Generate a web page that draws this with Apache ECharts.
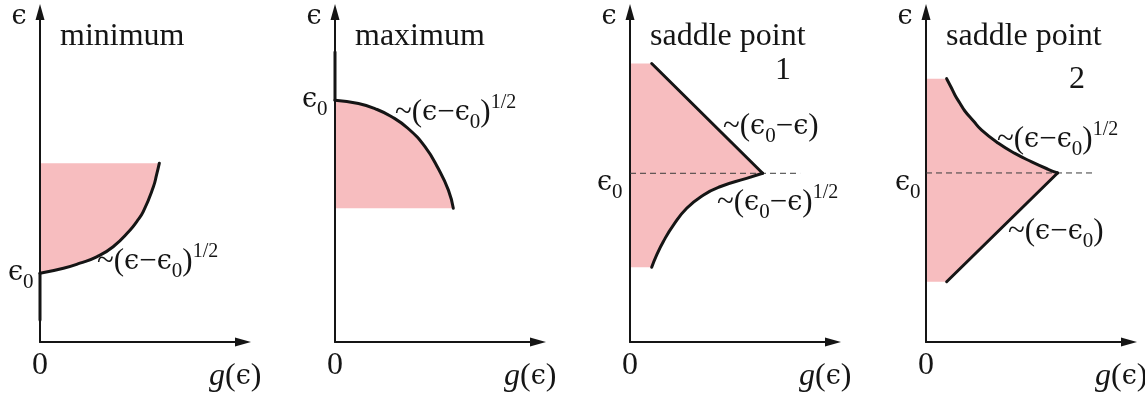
<!DOCTYPE html>
<html>
<head>
<meta charset="utf-8">
<script src="https://cdn.jsdelivr.net/npm/echarts@6/dist/echarts.min.js"></script>
<style>
  html, body { margin: 0; padding: 0; background: #ffffff; }
  #chart { width: 1145px; height: 395px; }
</style>
</head>
<body>
<div id="chart"></div>
<script>
// Panel headings and the origin tick label
const panelTitles = ['minimum', 'maximum', 'saddle point', 'saddle point'];
const panelNumbers = ['', '', '1', '2'];
const originTicks = ['0'];

// Critical energy ε0 of each panel (axis units)
const eps0 = [2.04, 7.18, 5.01, 5.02];

// Panel 1 — band minimum: g(ε) rises from ε0
const minCurve = [[0, 2.04], [0.67, 2.19], [1.14, 2.34], [1.62, 2.53], [2.09, 2.83],
                  [2.57, 3.32], [2.76, 3.57], [2.95, 3.87], [3.24, 4.61], [3.33, 4.96], [3.41, 5.31]];
const minZero = [[0, 0.65], [0, 2.04]];

// Panel 2 — band maximum: g(ε) falls towards ε0
const maxCurve = [[0, 7.18], [0.67, 7.08], [1.14, 6.93], [1.62, 6.69], [2.09, 6.34],
                  [2.57, 5.80], [2.95, 5.15], [3.24, 4.51], [3.38, 3.97]];
const maxZero = [[0, 7.18], [0, 8.61]];

// Panel 3 — saddle point 1
const s1Upper = [[0.62, 8.27], [3.79, 5.01]];
const s1Lower = [[3.79, 5.01], [3.33, 4.86], [2.57, 4.61], [2.09, 4.36], [1.62, 3.97],
                 [1.24, 3.47], [0.95, 2.98], [0.76, 2.58], [0.62, 2.22]];

// Panel 4 — saddle point 2
const s2Upper = [[0.59, 7.82], [0.71, 7.58], [0.83, 7.33], [0.97, 7.09], [1.11, 6.86], [1.35, 6.57],
                 [1.59, 6.29], [2.07, 5.90], [2.54, 5.60], [3.02, 5.35], [3.49, 5.13], [3.76, 5.02]];
const s2Lower = [[3.76, 5.02], [0.59, 1.79]];

// Where the dashed ε0 guide stops (g units)
const dashEnds = [null, null, 4.86, 4.83];

// Shaded regions: curve plus closing edge along g = 0
const fills = [
  minCurve.concat([[0, 5.31]]),
  maxCurve.concat([[0, 3.97]]),
  [[0, 8.27]].concat(s1Upper, s1Lower.slice(1), [[0, 2.22]]),
  [[0, 7.82]].concat(s2Upper, s2Lower.slice(1), [[0, 1.79]])
];

const FONT = '"Liberation Serif", "Times New Roman", "DejaVu Serif", serif';
const EPS_FONT = '"DejaVu Serif", serif';
const INK = '#151515';
const FILL = '#f7bdbf';
const LEFTS = [40, 335, 630, 926];
const G_MAX = 5.8, E_MAX = 9.8;

const chart = echarts.init(document.getElementById('chart'), null, { renderer: 'canvas' });

const axisLine = {
  show: true,
  symbol: ['none', 'triangle'],
  symbolSize: [9, 16],
  lineStyle: { color: INK, width: 2 }
};

const grids = LEFTS.map(l => ({ left: l, top: 12, width: 203, height: 330 }));

const xAxes = LEFTS.map((l, i) => ({
  gridIndex: i, type: 'value', min: 0, max: G_MAX, interval: G_MAX, z: 3,
  axisLine: axisLine, axisTick: { show: false }, splitLine: { show: false },
  axisLabel: {
    margin: 8, color: INK, fontFamily: FONT, fontSize: 32,
    formatter: v => (v === 0 ? originTicks[0] : '')
  }
}));

const yAxes = LEFTS.map((l, i) => ({
  gridIndex: i, type: 'value', min: 0, max: E_MAX, z: 3,
  axisLine: axisLine, axisTick: { show: false }, splitLine: { show: false },
  axisLabel: { show: false }
}));

function fillSeries(i) {
  const poly = fills[i];
  return {
    type: 'custom', xAxisIndex: i, yAxisIndex: i, z: 1, silent: true, clip: false,
    data: poly,
    renderItem: (params, api) => {
      if (params.dataIndex !== 0) return null;
      return {
        type: 'polygon',
        shape: { points: poly.map(p => api.coord(p)) },
        style: { fill: FILL }
      };
    }
  };
}

function curve(i, data, smooth) {
  return {
    type: 'line', xAxisIndex: i, yAxisIndex: i, z: 5, silent: true, clip: false,
    data: data, smooth: smooth, showSymbol: false, symbol: 'none',
    lineStyle: { color: INK, width: 3, cap: 'round', join: 'round' }
  };
}

function dashed(i) {
  return {
    type: 'line', xAxisIndex: i, yAxisIndex: i, z: 4, silent: true, clip: false,
    data: [[0, eps0[i]], [dashEnds[i], eps0[i]]], showSymbol: false, symbol: 'none',
    lineStyle: { color: '#3a3a3a', width: 1, type: [6, 4] }
  };
}

const series = [];
fills.forEach((_, i) => series.push(fillSeries(i)));
series.push(curve(0, minCurve, 0.5), curve(0, minZero, false));
series.push(curve(1, maxCurve, 0.5), curve(1, maxZero, false));
series.push(dashed(2), curve(2, s1Upper, false), curve(2, s1Lower, 0.5));
series.push(dashed(3), curve(3, s2Upper, 0.5), curve(3, s2Lower, false));

// Rich-text styles: epsilon glyph, subscripts, superscripts, italics
const rich = {
  e: { fontFamily: EPS_FONT, fontSize: 27, lineHeight: 40, fill: INK },
  s: { fontFamily: FONT, fontSize: 21, lineHeight: 22, verticalAlign: 'bottom', fill: INK },
  p: { fontFamily: FONT, fontSize: 20, lineHeight: 20, verticalAlign: 'top', fill: INK },
  i: { fontFamily: FONT, fontSize: 32, fontStyle: 'italic', lineHeight: 40, fill: INK }
};

function txt(text, x, y, size, align) {
  return {
    type: 'text', x: x, y: y, silent: true, z: 10,
    style: {
      text: text.replace(/ϵ(?![^{]*})/g, '{e|ϵ}'), rich: rich, fill: INK,
      fontFamily: FONT, fontSize: size, lineHeight: 40,
      textAlign: align || 'left', textVerticalAlign: 'middle'
    }
  };
}

const graphics = [];
LEFTS.forEach((l, i) => {
  graphics.push(txt('ϵ', l - 21, 17, 30, 'center'));
  graphics.push(txt(panelTitles[i], l + 20, 37, 32));
  graphics.push(txt('{i|g}(ϵ)', l + 169, 377, 32));
});
graphics.push(txt(panelNumbers[2], 783, 71, 32, 'center'));
graphics.push(txt(panelNumbers[3], 1077, 80, 32, 'center'));
// ε0 markers beside each vertical axis
graphics.push(txt('ϵ{s|0}', 8, 273, 32));
graphics.push(txt('ϵ{s|0}', 302, 100, 32));
graphics.push(txt('ϵ{s|0}', 597, 183, 32));
graphics.push(txt('ϵ{s|0}', 895, 183, 32));
// asymptotic forms of g(ε)
graphics.push(txt('~(ϵ−ϵ{s|0}){p|1/2}', 97, 262, 31));
graphics.push(txt('~(ϵ−ϵ{s|0}){p|1/2}', 395, 113, 31));
graphics.push(txt('~(ϵ{s|0}−ϵ)', 723, 127, 31));
graphics.push(txt('~(ϵ{s|0}−ϵ){p|1/2}', 717, 203, 31));
graphics.push(txt('~(ϵ−ϵ{s|0}){p|1/2}', 997, 140, 31));
graphics.push(txt('~(ϵ−ϵ{s|0})', 1008, 232, 31));

chart.setOption({
  animation: false,
  backgroundColor: '#ffffff',
  grid: grids,
  xAxis: xAxes,
  yAxis: yAxes,
  series: series,
  graphic: { elements: graphics }
});
</script>
</body>
</html>
